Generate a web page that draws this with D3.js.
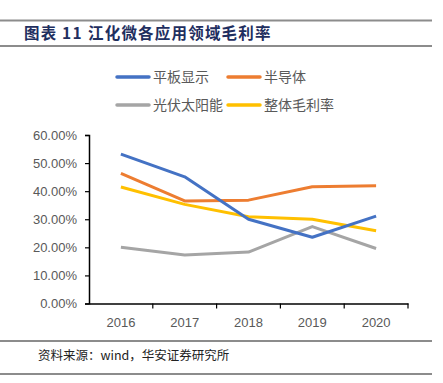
<!DOCTYPE html>
<html>
<head>
<meta charset="utf-8">
<script src="https://d3js.org/d3.v7.min.js"></script>
<style>
  body { margin: 0; background: #fff; }
  svg { display: block; }
</style>
</head>
<body>
<script>
(function (d3) {
    'use strict';

    var years = ["2016", "2017", "2018", "2019", "2020"];
    var seriesNames = ["平板显示", "半导体", "光伏太阳能", "整体毛利率"];
    var panel = [53.2, 45.1, 30.0, 23.6, 31.1];
    var semi = [46.3, 36.5, 36.8, 41.6, 41.9];
    var solar = [20.0, 17.3, 18.3, 27.4, 19.6];
    var overall = [41.5, 35.3, 30.9, 30.0, 25.9];
    var yTicks = [0, 10, 20, 30, 40, 50, 60];
    var colors = ["#4472c4", "#ed7d31", "#a5a5a5", "#ffc000"];

    var series = [panel, semi, solar, overall];

    const W = 443, H = 383;
    const margin = { top: 135, right: 35, bottom: 80, left: 89 };
    const width = 408 - margin.left;
    const height = 303.5 - margin.top;

    var svg = d3.select("body").append("svg")
        .attr("width", W)
        .attr("height", H);

    // header and footer rules
    [20.5, 46, 341, 374].forEach(function (yy) {
        svg.append("line")
            .attr("x1", 0).attr("x2", 432)
            .attr("y1", yy).attr("y2", yy)
            .attr("stroke", "#8c8c8c")
            .attr("stroke-width", 2);
    });

    var title = svg.append("text")
        .attr("y", 39)
        .attr("font-family", "Noto Sans CJK SC")
        .attr("font-size", 15.5)
        .attr("font-weight", "bold")
        .attr("letter-spacing", 1.2)
        .attr("fill", "#1f2f5f");
    title.append("tspan").attr("x", 24).text("图表 11");
    title.append("tspan").attr("x", 88).text("江化微各应用领域毛利率");

    svg.append("text")
        .attr("x", 38)
        .attr("y", 360)
        .attr("font-family", "Noto Sans CJK SC")
        .attr("font-size", 12.5)
        .attr("fill", "#222")
        .text("资料来源：wind，华安证券研究所");

    var g = svg.append("g")
        .attr("transform", "translate(" + margin.left + "," + margin.top + ")");

    var x = d3.scaleBand()
        .domain(years)
        .range([0, width]);

    var y = d3.scaleLinear()
        .domain([0, 60])
        .range([height, 0]);

    // y axis
    var yAxis = g.append("g")
        .call(d3.axisLeft(y)
            .tickValues(yTicks)
            .tickSize(4)
            .tickFormat(function (d) { return d.toFixed(2) + "%"; }));
    yAxis.select(".domain").attr("stroke", "#000").attr("stroke-width", 1.5);
    yAxis.selectAll(".tick line").attr("stroke", "#000").attr("stroke-width", 1.2);
    yAxis.selectAll(".tick text")
        .attr("x", -12)
        .attr("font-family", "Liberation Sans")
        .attr("font-size", 13)
        .attr("fill", "#595959");

    // x axis
    var xAxis = g.append("g")
        .attr("transform", "translate(0," + height + ")")
        .call(d3.axisBottom(x).tickSize(0).tickSizeOuter(0));
    xAxis.select(".domain").attr("stroke", "#000").attr("stroke-width", 1.5);
    xAxis.selectAll(".tick text")
        .attr("dy", 0)
        .attr("y", 23)
        .attr("font-family", "Liberation Sans")
        .attr("font-size", 13)
        .attr("fill", "#595959");
    // category boundary ticks
    xAxis.selectAll(".bound")
        .data(years)
        .enter().append("line")
        .attr("class", "bound")
        .attr("x1", function (d) { return x(d) + x.bandwidth(); })
        .attr("x2", function (d) { return x(d) + x.bandwidth(); })
        .attr("y1", 0)
        .attr("y2", 5)
        .attr("stroke", "#000")
        .attr("stroke-width", 1.2);

    var line = d3.line()
        .x(function (d, i) { return x(years[i]) + x.bandwidth() / 2; })
        .y(function (d) { return y(d); });

    // draw order: gray, yellow, orange, blue on top
    [2, 3, 1, 0].forEach(function (k) {
        g.append("path")
            .datum(series[k])
            .attr("fill", "none")
            .attr("stroke", colors[k])
            .attr("stroke-width", 3)
            .attr("stroke-linejoin", "round")
            .attr("d", line);
    });

    // legend
    var legendPos = [[117, 77], [228, 77], [117, 105], [228, 105]];
    var legend = svg.append("g")
        .selectAll("g")
        .data(seriesNames)
        .enter().append("g")
        .attr("transform", function (d, i) { return "translate(" + legendPos[i][0] + "," + legendPos[i][1] + ")"; });

    legend.append("line")
        .attr("x1", 0).attr("x2", 32)
        .attr("y1", 0).attr("y2", 0)
        .attr("stroke", function (d, i) { return colors[i]; })
        .attr("stroke-width", 3.5)
        .attr("stroke-linecap", "round");

    legend.append("text")
        .attr("x", 36)
        .attr("y", 0)
        .attr("dy", "0.36em")
        .attr("font-family", "Noto Sans CJK SC")
        .attr("font-size", 14)
        .attr("fill", "#595959")
        .text(function (d) { return d; });

})(d3);
</script>
</body>
</html>
